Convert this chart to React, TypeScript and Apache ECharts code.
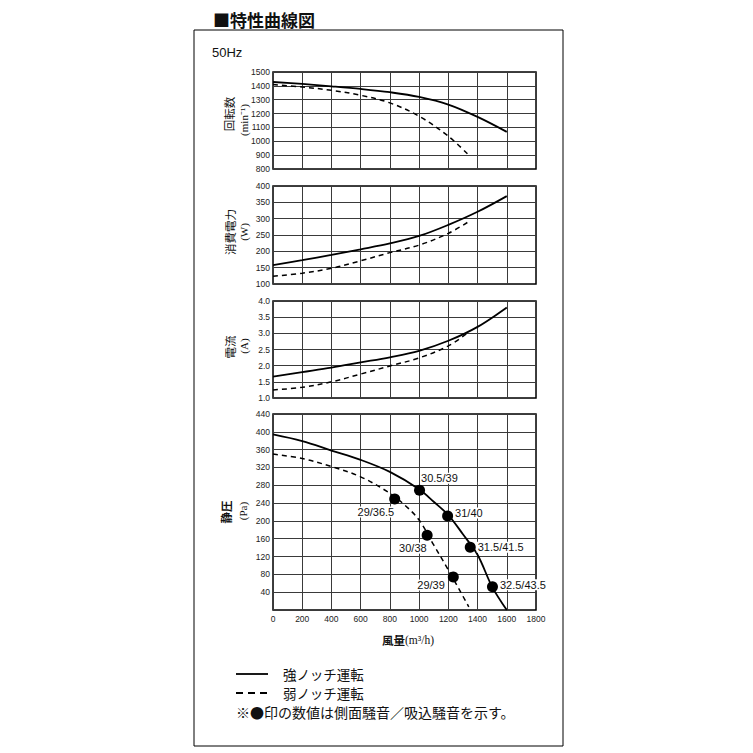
import * as echarts from 'echarts';
import React, { useEffect, useRef } from 'react';

// 風量 (m3/h)
const flowStrong = [0, 200, 400, 600, 800, 1000, 1200, 1400, 1600];
const flowWeak = [0, 200, 400, 600, 800, 1000, 1200, 1340];

// 回転数 (min-1)
const rpmStrong = [1428, 1414, 1397, 1378, 1354, 1320, 1265, 1176, 1068];
const rpmWeak = [1409, 1392, 1368, 1332, 1277, 1181, 1037, 900];

// 消費電力 (W)
const wattStrong = [158, 173, 189, 206, 224, 247, 281, 321, 369];
const wattWeak = [124, 133, 148, 171, 196, 219, 255, 291];

// 電流 (A)
const ampStrong = [1.66, 1.8, 1.94, 2.1, 2.26, 2.46, 2.77, 3.2, 3.8];
const ampWeak = [1.25, 1.33, 1.5, 1.74, 1.99, 2.24, 2.61, 3.04];

// 静圧 (Pa)
const paFlowStrong = [0, 200, 400, 600, 800, 1000, 1100, 1200, 1300, 1400, 1500, 1600];
const paStrong = [394, 379, 358, 337, 310, 271, 243, 213, 170, 124, 52, 0];
const paFlowWeak = [0, 200, 400, 600, 800, 900, 1000, 1100, 1200, 1340];
const paWeak = [350, 340, 322, 299, 262, 236, 202, 146, 90, 7];

// ●印 側面騒音/吸込騒音
const noiseStrong = [
  { flow: 1003, pa: 269, name: '30.5/39', offset: [-5, -12] },
  { flow: 1195, pa: 211, name: '31/40', offset: [1, -3] },
  { flow: 1350, pa: 141, name: '31.5/41.5', offset: [1, 0] },
  { flow: 1502, pa: 52, name: '32.5/43.5', offset: [1, -2] },
];
const noiseWeak = [
  { flow: 833, pa: 249, name: '29/36.5', offset: [6, 13] },
  { flow: 1055, pa: 168, name: '30/38', offset: [6, 13] },
  { flow: 1234, pa: 74, name: '29/39', offset: [-2, 8] },
];

const SANS = 'Liberation Sans, Arial, sans-serif';
const SERIF = 'Liberation Serif, Times New Roman, serif';
const JP = 'Noto Sans CJK JP, sans-serif';

const pairs = (xs: number[], ys: number[]) => xs.map((x, i) => [x, ys[i]]);

const panels = [
  { top: 72, height: 97, min: 800, max: 1500, interval: 100, dec: 0, hideZero: false },
  { top: 186, height: 98, min: 100, max: 400, interval: 50, dec: 0, hideZero: false },
  { top: 301, height: 97, min: 1, max: 4, interval: 0.5, dec: 1, hideZero: false },
  { top: 414, height: 196, min: 0, max: 440, interval: 40, dec: 0, hideZero: true },
];

const App: React.FC = () => {
  const ref = useRef<HTMLDivElement>(null);

  useEffect(() => {
    const chart = echarts.init(ref.current, undefined, { renderer: 'svg' });

    const grid = panels.map((p) => ({
      left: 273,
      top: p.top,
      width: 263,
      height: p.height,
      show: true,
      borderColor: '#000',
      borderWidth: 1.5,
      backgroundColor: 'transparent',
    }));

    const xAxis = panels.map((p, i) => ({
      type: 'value',
      gridIndex: i,
      min: 0,
      max: 1800,
      interval: 200,
      axisLine: { show: false },
      axisTick: { show: false },
      axisLabel: {
        show: i === 3,
        fontSize: 8.5,
        color: '#222',
        fontFamily: SANS,
        margin: 4,
        formatter: (v: number) => String(v),
      },
      splitLine: { show: true, lineStyle: { color: '#3a3a3a', width: 1 } },
    }));

    const yAxis = panels.map((p, i) => ({
      type: 'value',
      gridIndex: i,
      min: p.min,
      max: p.max,
      interval: p.interval,
      axisLine: { show: false },
      axisTick: { show: false },
      axisLabel: {
        fontSize: 8.5,
        color: '#222',
        fontFamily: SANS,
        margin: 3,
        formatter: (v: number) => (p.hideZero && v === 0 ? '' : v.toFixed(p.dec)),
      },
      splitLine: { show: true, lineStyle: { color: '#3a3a3a', width: 1 } },
    }));

    const solid = { color: '#000', width: 1.8, type: 'solid' };
    const dashed = { color: '#000', width: 1.5, type: [5, 4] };
    const line = (idx: number, data: number[][], style: any) => ({
      type: 'line',
      xAxisIndex: idx,
      yAxisIndex: idx,
      data,
      smooth: 0.35,
      showSymbol: false,
      lineStyle: style,
      silent: true,
      z: 3,
    });

    const markers = (pts: typeof noiseStrong, side: 'left' | 'right') => ({
      type: 'scatter',
      xAxisIndex: 3,
      yAxisIndex: 3,
      symbol: 'circle',
      symbolSize: 11,
      itemStyle: { color: '#000', opacity: 1 },
      z: 5,
      data: pts.map((p) => ({
        value: [p.flow, p.pa],
        name: p.name,
        label: {
          show: true,
          position: side,
          distance: 0,
          offset: p.offset,
          formatter: '{b}',
          fontSize: 11,
          color: '#111',
          fontFamily: SANS,
          backgroundColor: '#fff',
          padding: [0, 1],
        },
      })),
    });

    const vText = (x: number, y: number, text: string, font: string, size: number, weight = 'normal') => ({
      type: 'text',
      x,
      y,
      rotation: Math.PI / 2,
      style: {
        text,
        fontSize: size,
        fontFamily: font,
        fontWeight: weight,
        fill: '#111',
        align: 'center',
        verticalAlign: 'middle',
      },
    });

    const hText = (x: number, y: number, text: string, font: string, size: number, weight = 'normal') => ({
      type: 'text',
      x,
      y,
      style: {
        text,
        fontSize: size,
        fontFamily: font,
        fontWeight: weight,
        fill: '#111',
        align: 'left',
        verticalAlign: 'middle',
      },
    });

    chart.setOption({
      animation: false,
      backgroundColor: '#fff',
      grid,
      xAxis,
      yAxis,
      series: [
        line(0, pairs(flowStrong, rpmStrong), solid),
        line(0, pairs(flowWeak, rpmWeak), dashed),
        line(1, pairs(flowStrong, wattStrong), solid),
        line(1, pairs(flowWeak, wattWeak), dashed),
        line(2, pairs(flowStrong, ampStrong), solid),
        line(2, pairs(flowWeak, ampWeak), dashed),
        line(3, pairs(paFlowStrong, paStrong), solid),
        line(3, pairs(paFlowWeak, paWeak), dashed),
        markers(noiseStrong, 'right'),
        markers(noiseWeak, 'left'),
      ],
      graphic: [
        hText(213, 19, '■特性曲線図', JP, 17, 'bold'),
        {
          type: 'rect',
          shape: { x: 194, y: 30, width: 369, height: 716 },
          style: { fill: 'none', stroke: '#000', lineWidth: 1 },
        },
        hText(212, 52, '50Hz', SANS, 13),
        vText(229, 114, '回転数', JP, 11.5),
        vText(244, 120, '(min⁻¹)', SERIF, 11),
        vText(230, 232, '消費電力', JP, 11.5),
        vText(244, 232, '(W)', SERIF, 11),
        vText(230, 347, '電流', JP, 11.5),
        vText(244, 346, '(A)', SERIF, 11),
        vText(226, 512, '静圧', JP, 11.5, 'bold'),
        vText(243, 511, '(Pa)', SERIF, 11),
        {
          type: 'text',
          x: 408,
          y: 640,
          style: {
            text: '{j|風量}{s|(m³/h)}',
            align: 'center',
            verticalAlign: 'middle',
            rich: {
              j: { fontSize: 11.5, fontFamily: JP, fontWeight: 'bold', fill: '#111' },
              s: { fontSize: 11.5, fontFamily: SERIF, fill: '#111' },
            },
          },
        },
        {
          type: 'line',
          shape: { x1: 236, y1: 674, x2: 268, y2: 674 },
          style: { stroke: '#000', lineWidth: 1.8 },
        },
        {
          type: 'line',
          shape: { x1: 236, y1: 693, x2: 268, y2: 693 },
          style: { stroke: '#000', lineWidth: 1.8, lineDash: [7, 5] },
        },
        hText(283, 674, '強ノッチ運転', JP, 13.5),
        hText(283, 693, '弱ノッチ運転', JP, 13.5),
        hText(236, 712, '※●印の数値は側面騒音／吸込騒音を示す。', JP, 14),
      ],
    });

    return () => {
      chart.dispose();
    };
  }, []);

  return (
    <div
      ref={ref}
      style={{ position: 'absolute', left: 0, top: 0, width: 753, height: 753 }}
    ></div>
  );
};

export default App;
